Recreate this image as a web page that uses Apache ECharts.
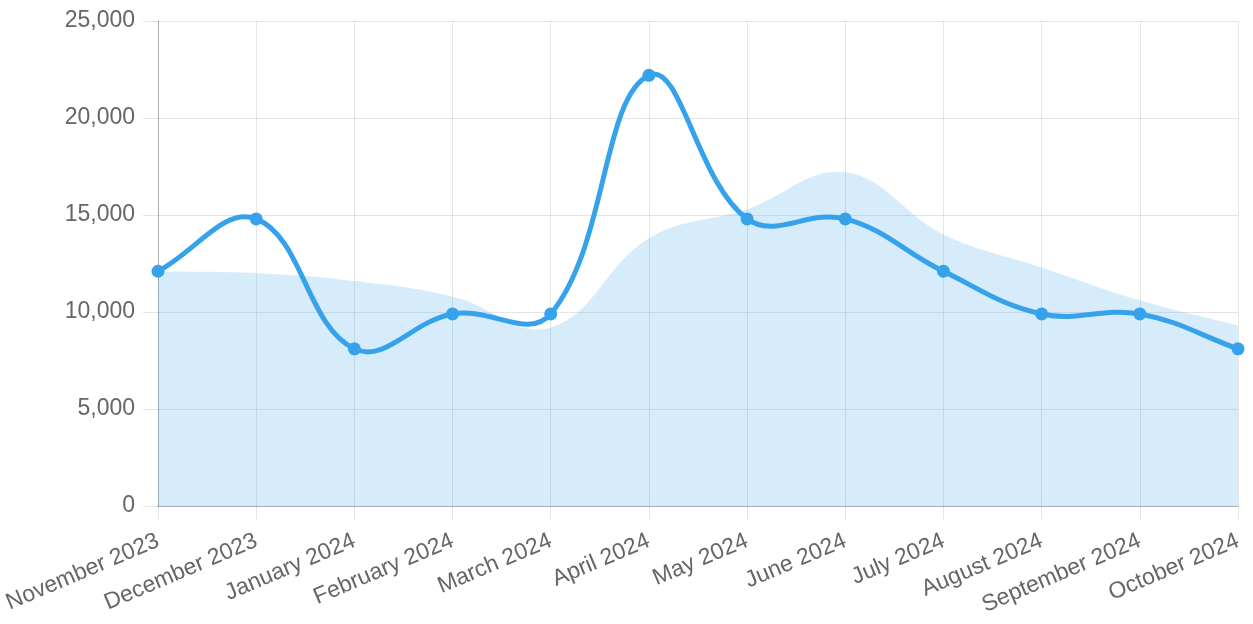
<!DOCTYPE html>
<html>
<head>
<meta charset="utf-8">
<script src="https://cdn.jsdelivr.net/npm/echarts@6/dist/echarts.min.js"></script>
<style>
html,body{margin:0;padding:0;background:#fff;}
#c{width:1253px;height:624px;}
</style>
</head>
<body>
<div id="c"></div>
<script>
const categories = ["November 2023","December 2023","January 2024","February 2024","March 2024","April 2024","May 2024","June 2024","July 2024","August 2024","September 2024","October 2024"];
const lineValues = [12100, 14800, 8100, 9900, 9900, 22200, 14800, 14800, 12100, 9900, 9900, 8100];
const areaValues = [12100, 12000, 11600, 10800, 9200, 13800, 15300, 17200, 14000, 12300, 10600, 9300];
const yTicks = [0, 5000, 10000, 15000, 20000, 25000];

const TENSION = 0.4;
function splinePoints(api, values) {
  const pts = values.map((v, i) => api.coord([i, v]));
  const cps = pts.map((p, i) => {
    const prev = pts[i - 1] || p, next = pts[i + 1] || p;
    const d01 = Math.hypot(p[0] - prev[0], p[1] - prev[1]);
    const d12 = Math.hypot(next[0] - p[0], next[1] - p[1]);
    let s01 = d01 / (d01 + d12), s12 = d12 / (d01 + d12);
    if (!isFinite(s01)) s01 = 0;
    if (!isFinite(s12)) s12 = 0;
    const fa = TENSION * s01, fb = TENSION * s12;
    return {
      prev: [p[0] - fa * (next[0] - prev[0]), p[1] - fa * (next[1] - prev[1])],
      next: [p[0] + fb * (next[0] - prev[0]), p[1] + fb * (next[1] - prev[1])]
    };
  });
  let d = 'M' + pts[0][0] + ' ' + pts[0][1];
  for (let i = 1; i < pts.length; i++) {
    d += ' C' + cps[i - 1].next[0] + ' ' + cps[i - 1].next[1] + ' ' +
         cps[i].prev[0] + ' ' + cps[i].prev[1] + ' ' + pts[i][0] + ' ' + pts[i][1];
  }
  return {d, pts};
}

const chart = echarts.init(document.getElementById('c'), null, {renderer: 'canvas'});
const font = '"Liberation Sans", Arial, Helvetica, sans-serif';
chart.setOption({
  animation: false,
  grid: {left: 158, right: 15, top: 21, bottom: 118, containLabel: false},
  xAxis: {
    type: 'category',
    data: categories,
    boundaryGap: false,
    axisLine: {show: true, lineStyle: {color: 'rgba(0,0,0,0.25)', width: 1}},
    axisTick: {show: true, alignWithLabel: true, length: 14, lineStyle: {color: 'rgba(0,0,0,0.1)'}},
    splitLine: {show: true, lineStyle: {color: 'rgba(0,0,0,0.1)', width: 1}},
    axisLabel: {rotate: 23, margin: 34, color: '#666', fontSize: 23, fontFamily: font, interval: 0}
  },
  yAxis: {
    type: 'value',
    min: yTicks[0],
    max: yTicks[yTicks.length - 1],
    interval: yTicks[1] - yTicks[0],
    axisLine: {show: true, lineStyle: {color: 'rgba(0,0,0,0.25)', width: 1}},
    axisTick: {show: true, length: 15, lineStyle: {color: 'rgba(0,0,0,0.1)'}},
    splitLine: {show: true, lineStyle: {color: 'rgba(0,0,0,0.1)', width: 1}},
    axisLabel: {margin: 23, color: '#666', fontSize: 23, fontFamily: font,
      formatter: v => v.toLocaleString('en-US')}
  },
  series: [
    {
      type: 'custom',
      name: 'area',
      data: areaValues.map((v, i) => [i, v]),
      encode: {x: 0, y: 1},
      silent: true,
      z: 1,
      renderItem: function (params, api) {
        if (params.dataIndex !== 0) return null;
        const r = splinePoints(api, areaValues);
        const y0 = api.coord([0, 0])[1];
        const last = r.pts[r.pts.length - 1], first = r.pts[0];
        const d = r.d + ' L' + last[0] + ' ' + y0 + ' L' + first[0] + ' ' + y0 + ' Z';
        return {type: 'path', shape: {pathData: d}, style: {fill: 'rgba(54,162,235,0.2)', stroke: null}};
      }
    },
    {
      type: 'custom',
      name: 'lineCurve',
      data: lineValues.map((v, i) => [i, v]),
      encode: {x: 0, y: 1},
      silent: true,
      z: 2,
      renderItem: function (params, api) {
        if (params.dataIndex !== 0) return null;
        const r = splinePoints(api, lineValues);
        return {type: 'path', shape: {pathData: r.d},
          style: {fill: null, stroke: '#36A2EB', lineWidth: 5, lineJoin: 'round', lineCap: 'round'}};
      }
    },
    {
      type: 'line',
      name: 'points',
      data: lineValues,
      symbol: 'circle',
      symbolSize: 13,
      lineStyle: {width: 0, opacity: 0},
      itemStyle: {color: '#36A2EB'},
      z: 3
    }
  ]
});
</script>
</body>
</html>
